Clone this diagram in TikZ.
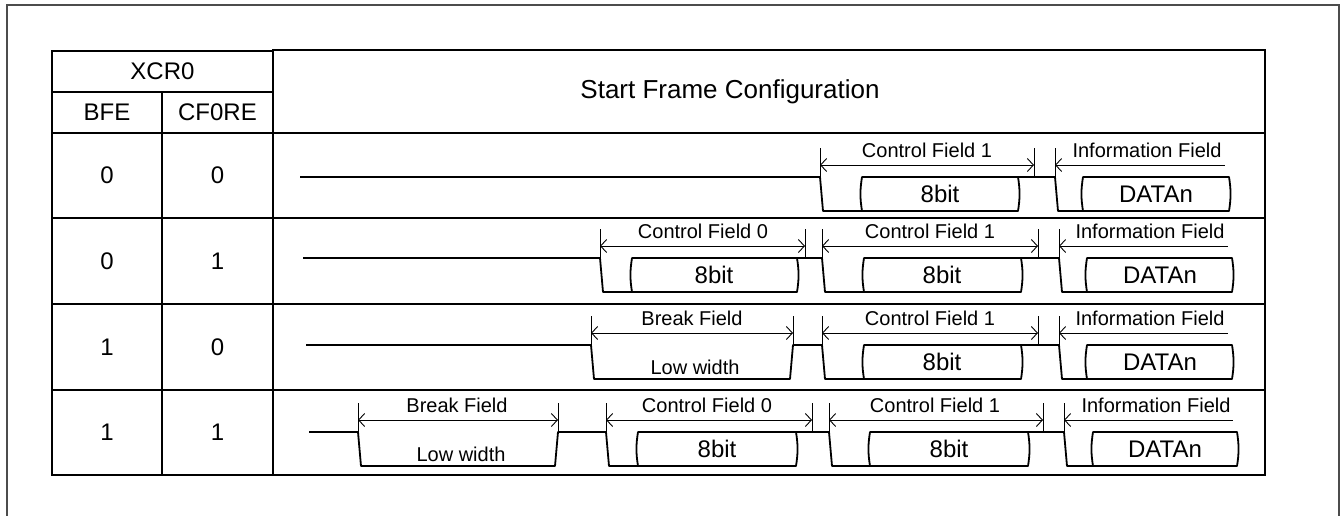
\documentclass[tikz,border=0pt]{standalone}
\usepackage{fontspec}
\setmainfont{Liberation Sans}
\usetikzlibrary{arrows.meta}
\tikzset{
  frame/.style   = {line width=2pt, black!70},
  grid/.style    = {line width=1.6pt},
  sig/.style     = {line width=1.8pt, line join=round},
  tick/.style    = {line width=0.9pt},
  dim/.style     = {line width=0.9pt,
                    {Straight Barb[length=6pt,width=13pt]}-{Straight Barb[length=6pt,width=13pt]}},
  infodim/.style = {line width=0.9pt, {Straight Barb[length=6pt,width=13pt]}-},
  val/.style     = {font=\fontsize{24}{28}\selectfont},
  lbl/.style     = {font=\fontsize{20}{24}\selectfont, inner sep=0pt, anchor=base},
}
% data slot with bulged ends: left x, right x
\newcommand\databox[2]{\draw[sig] (#1,0) -- (#2,0) to[bend left=9] (#2,34) -- (#1,34) to[bend left=9] cycle;}

\begin{document}
\begin{tikzpicture}[x=1pt,y=-1pt]
  \useasboundingbox (0,0) rectangle (1341,515);
  \draw[frame] (7,530) -- (7,5) -- (1339,5) -- (1339,530);

  % table
  \draw[grid] (52,51) rectangle (273,475);
  \draw[grid] (273,50) rectangle (1265,475);
  \draw[grid] (52,92) -- (273,92);
  \draw[grid] (162,92) -- (162,475);
  \foreach \y in {133,218,304,390}
    \draw[grid] (52,\y) -- (1265,\y);

  \node[val] (xcr)   at (162.5,71.5) {XCR0};
  \node[val] (bfe)   at (107,112.5)  {BFE};
  \node[val] (cfre)  at (217.5,112.5) {CF0RE};
  \node[val,font=\fontsize{26}{30}\selectfont] (title) at (730,92) {Start Frame Configuration};
  \node[val] (bfea)  at (107,175.5) {0};   \node[val] (cfa) at (217.5,175.5) {0};
  \node[val] (bfeb)  at (107,261)   {0};   \node[val] (cfb) at (217.5,261)   {1};
  \node[val] (bfec)  at (107,347)   {1};   \node[val] (cfc) at (217.5,347)   {0};
  \node[val] (bfed)  at (107,432.5) {1};   \node[val] (cfd) at (217.5,432.5) {1};

  % row 1: no break, no control field 0
  \begin{scope}[shift={(0,177)}]
    \draw[sig] (300,0) -- (820,0) -- (823,34) -- (862,34);
    \databox{862}{1018}
    \draw[sig] (1018,0) -- (1055,0) -- (1058,34) -- (1083,34);
    \databox{1083}{1229}
    \draw[tick] (820,-29) -- (820,0) (1034,-29) -- (1034,0) (1055,-29) -- (1055,0);
    \draw[dim] (820,-12) -- (1034,-12);
    \draw[infodim] (1055,-12) -- (1225,-12);
    \node[lbl] (cfoa)  at (927,-20)  {Control Field 1};
    \node[val] (bita)  at (940,17)   {8bit};
    \node[lbl] (infa)  at (1147,-20) {Information Field};
    \node[val] (dta)   at (1156,17)  {DATAn};
  \end{scope}

  % row 2: control field 0 on
  \begin{scope}[shift={(0,258)}]
    \draw[sig] (303,0) -- (600,0) -- (603,34) -- (632,34);
    \databox{632}{797}
    \draw[sig] (797,0) -- (822,0) -- (825,34) -- (864,34);
    \databox{864}{1021}
    \draw[sig] (1021,0) -- (1059,0) -- (1062,34) -- (1087,34);
    \databox{1087}{1232}
    \draw[tick] (600,-29) -- (600,0) (805,-29) -- (805,0) (822,-29) -- (822,0)
                (1038,-29) -- (1038,0) (1059,-29) -- (1059,0);
    \draw[dim] (600,-12) -- (805,-12);
    \draw[dim] (822,-12) -- (1038,-12);
    \draw[infodim] (1059,-12) -- (1228,-12);
    \node[lbl] (cfzb)  at (703,-20)  {Control Field 0};
    \node[val] (bitb)  at (714,17)   {8bit};
    \node[lbl] (cfob)  at (930,-20)  {Control Field 1};
    \node[val] (bitbb) at (942,17)   {8bit};
    \node[lbl] (infb)  at (1150,-20) {Information Field};
    \node[val] (dtb)   at (1160,17)  {DATAn};
  \end{scope}

  % row 3: break field on
  \begin{scope}[shift={(0,345)}]
    \draw[sig] (306,0) -- (591,0) -- (594,34) -- (790,34) -- (793,0) -- (822,0)
               -- (825,34) -- (864,34);
    \databox{864}{1021}
    \draw[sig] (1021,0) -- (1059,0) -- (1062,34) -- (1087,34);
    \databox{1087}{1232}
    \draw[tick] (591,-29) -- (591,0) (793,-29) -- (793,0) (822,-29) -- (822,0)
                (1038,-29) -- (1038,0) (1059,-29) -- (1059,0);
    \draw[dim] (591,-12) -- (793,-12);
    \draw[dim] (822,-12) -- (1038,-12);
    \draw[infodim] (1059,-12) -- (1228,-12);
    \node[lbl] (brc)   at (692,-20)  {Break Field};
    \node[lbl,anchor=center] (lwc) at (695,22) {Low width};
    \node[lbl] (cfoc)  at (930,-20)  {Control Field 1};
    \node[val] (bitc)  at (942,17)   {8bit};
    \node[lbl] (infc)  at (1150,-20) {Information Field};
    \node[val] (dtc)   at (1160,17)  {DATAn};
  \end{scope}

  % row 4: break field and control field 0 on
  \begin{scope}[shift={(0,432)}]
    \draw[sig] (309,0) -- (358,0) -- (361,34) -- (555,34) -- (558,0) -- (606,0)
               -- (609,34) -- (638,34);
    \databox{638}{796}
    \draw[sig] (796,0) -- (829,0) -- (832,34) -- (870,34);
    \databox{870}{1028}
    \draw[sig] (1028,0) -- (1064,0) -- (1067,34) -- (1093,34);
    \databox{1093}{1237}
    \draw[tick] (358,-29) -- (358,0) (558,-29) -- (558,0) (606,-29) -- (606,0)
                (812,-29) -- (812,0) (829,-29) -- (829,0) (1043,-29) -- (1043,0)
                (1064,-29) -- (1064,0);
    \draw[dim] (358,-12) -- (558,-12);
    \draw[dim] (606,-12) -- (812,-12);
    \draw[dim] (829,-12) -- (1043,-12);
    \draw[infodim] (1064,-12) -- (1233,-12);
    \node[lbl] (brd)   at (457,-20)  {Break Field};
    \node[lbl,anchor=center] (lwd) at (461,22) {Low width};
    \node[lbl] (cfzd)  at (707,-20)  {Control Field 0};
    \node[val] (bitd)  at (717,17)   {8bit};
    \node[lbl] (cfod)  at (935,-20)  {Control Field 1};
    \node[val] (bitdd) at (949,17)   {8bit};
    \node[lbl] (infd)  at (1156,-20) {Information Field};
    \node[val] (dtd)   at (1165,17)  {DATAn};
  \end{scope}
\end{tikzpicture}
\end{document}
